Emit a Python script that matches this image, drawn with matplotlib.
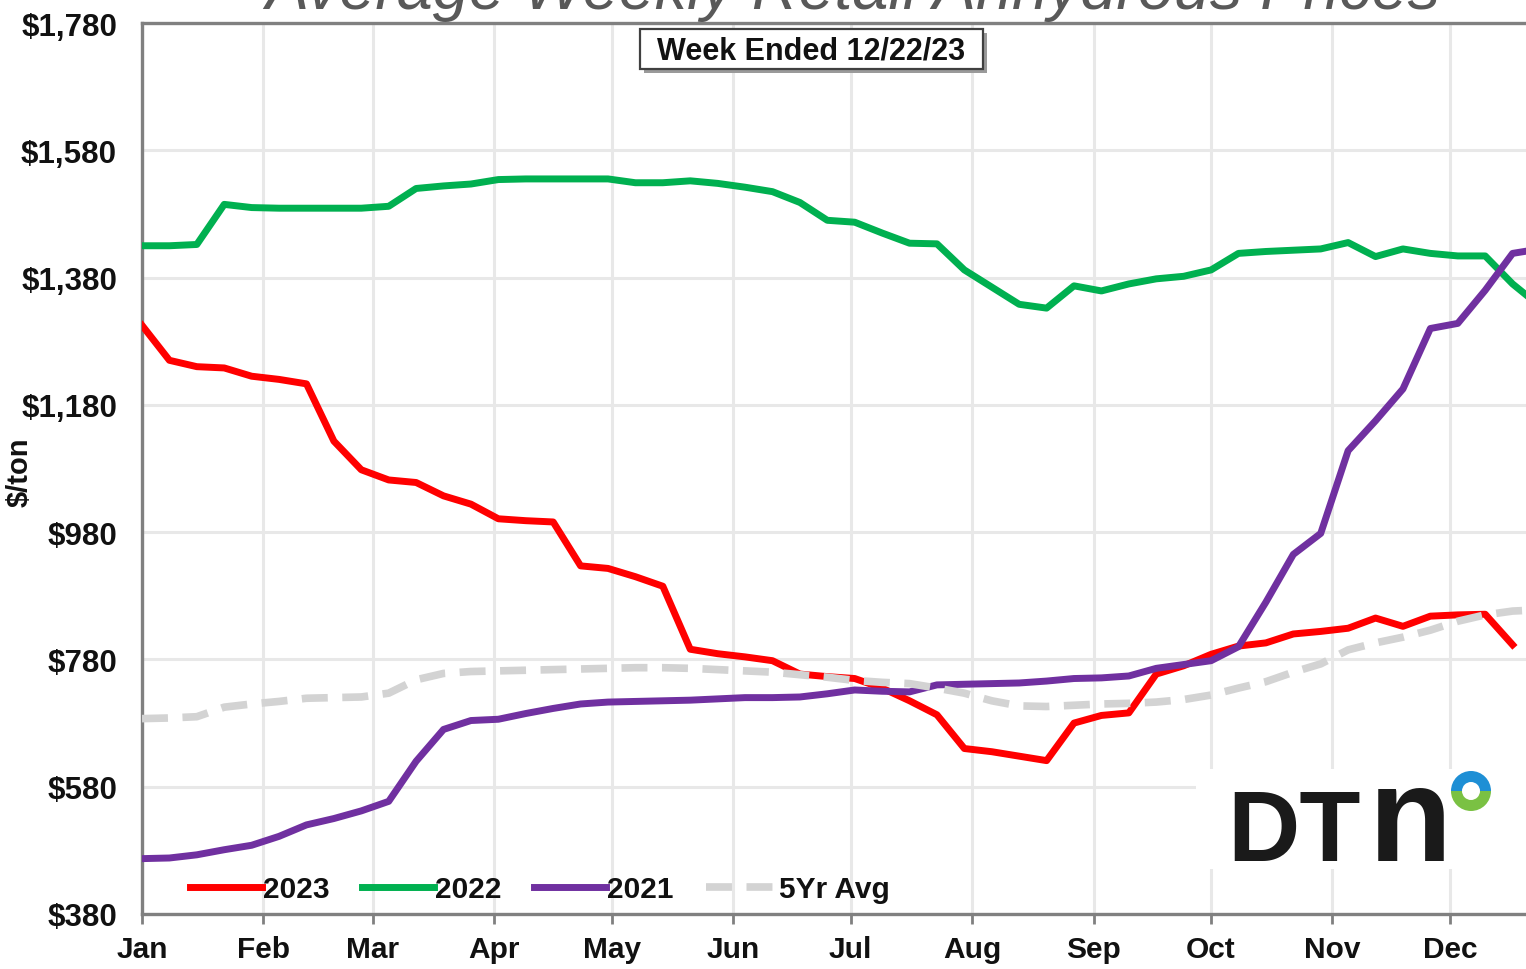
import matplotlib
matplotlib.use("Agg")
import matplotlib.pyplot as plt
import matplotlib.patches as mpatches
import numpy as np

# Weekly retail anhydrous prices, $/ton (one value per week from the first week of January)
price_2023 = [1305, 1250, 1240, 1238, 1225, 1220, 1213, 1123, 1078, 1062, 1058, 1037, 1024,
              1001, 998, 996, 927, 923, 910, 895, 796, 789, 784, 778, 757, 753, 750, 735,
              715, 693, 640, 635, 628, 621, 680, 692, 696, 757, 770, 788, 801, 806, 820,
              824, 829, 845, 832, 848, 850, 851, 803]
price_2022 = [1430, 1430, 1432, 1495, 1490, 1489, 1489, 1489, 1489, 1492, 1520, 1524, 1527,
              1534, 1535, 1535, 1535, 1535, 1529, 1529, 1532, 1528, 1522, 1515, 1498, 1470,
              1467, 1450, 1434, 1433, 1392, 1365, 1338, 1332, 1367, 1359, 1370, 1378, 1382,
              1392, 1418, 1421, 1423, 1425, 1435, 1413, 1425, 1418, 1414, 1414, 1370, 1335]
price_2021 = [467, 468, 473, 481, 488, 502, 520, 530, 542, 557, 620, 670, 684, 686, 695,
              703, 710, 713, 714, 715, 716, 718, 720, 720, 721, 726, 732, 730, 729, 740,
              741, 742, 743, 746, 750, 751, 754, 766, 772, 778, 800, 870, 945, 978, 1108,
              1155, 1205, 1300, 1308, 1360, 1418, 1425]
price_5yr = [687, 688, 690, 705, 710, 714, 719, 720, 721, 727, 748, 758, 761, 762, 763,
             764, 765, 766, 767, 767, 766, 764, 762, 760, 756, 752, 747, 744, 742, 735,
             727, 715, 707, 706, 708, 710, 711, 713, 717, 724, 735, 745, 760, 773, 795,
             806, 815, 826, 840, 850, 856, 858]

month_days = [0, 31, 59, 90, 120, 151, 181, 212, 243, 273, 304, 334]
month_labels = ["Jan", "Feb", "Mar", "Apr", "May", "Jun",
                "Jul", "Aug", "Sep", "Oct", "Nov", "Dec"]
y_ticks = [380, 580, 780, 980, 1180, 1380, 1580, 1780]

RED = "#FF0000"
GREEN = "#00B050"
PURPLE = "#7030A0"
AVG_GRAY = "#D3D3D3"
SPINE = "#808080"
GRID = "#E8E8E8"

W, H = 1526, 970
plt.rcParams["font.family"] = ["Liberation Sans", "DejaVu Sans"]

fig = plt.figure(figsize=(W / 100, H / 100), dpi=100)
fig.patch.set_facecolor("white")

ax = fig.add_axes([142 / W, 1 - 915 / H, 1 - 142 / W, (915 - 24) / H])


def weeks(vals):
    return np.arange(len(vals)) * 7


ax.plot(weeks(price_2023), price_2023, color=RED, lw=5, label="2023", zorder=3)
ax.plot(weeks(price_2022), price_2022, color=GREEN, lw=5, label="2022", zorder=4)
ax.plot(weeks(price_2021), price_2021, color=PURPLE, lw=5, label="2021", zorder=5)
ax.plot(weeks(price_5yr), price_5yr, color=AVG_GRAY, lw=5.5, dashes=(3.4, 1.9),
        label="5Yr Avg", zorder=6)

ax.set_xlim(0, (W - 142) / 3.916)
ax.set_ylim(380, 1780)
ax.set_xticks(month_days)
ax.set_xticklabels(month_labels)
ax.set_yticks(y_ticks)
ax.set_yticklabels([f"${v:,}" for v in y_ticks])
ax.grid(True, color=GRID, lw=2.2, zorder=0)
ax.set_axisbelow(True)

for lab in ax.get_xticklabels():
    lab.set_fontsize(21.5)
    lab.set_fontweight("bold")
    lab.set_color("#111111")
for lab in ax.get_yticklabels():
    lab.set_fontsize(22.5)
    lab.set_fontweight("bold")
    lab.set_color("#111111")
ax.tick_params(axis="x", direction="out", length=7, width=2, color=SPINE, pad=8)
ax.tick_params(axis="y", length=0, pad=18)

ax.spines["right"].set_visible(False)
for side in ("left", "bottom", "top"):
    ax.spines[side].set_color(SPINE)
    ax.spines[side].set_linewidth(2.4)

leg = ax.legend(loc="center left", bbox_to_anchor=(190 / W, 1 - 890 / H),
                bbox_transform=fig.transFigure, ncol=4, frameon=False,
                handlelength=2.4, handletextpad=0.05, columnspacing=1.08,
                borderpad=0, borderaxespad=0,
                prop={"size": 21.5, "weight": "bold"})
for t in leg.get_texts():
    t.set_color("#111111")

# title, cut off at the top edge of the image
fig.text(853 / W, 1 - 9 / H, "Average Weekly Retail Anhydrous Prices",
         ha="center", va="baseline", fontsize=46.5, style="italic", color="#595959")

# y label, partly cut off at the left edge
fig.text(34 / W, 1 - 472 / H, "$/ton", rotation=90, ha="right", va="center",
         fontsize=21, fontweight="bold", color="#111111")

# "Week Ended" box with shadow
fig.patches.append(mpatches.Rectangle((644 / W, 1 - 74 / H), 343 / W, 40 / H,
                                      transform=fig.transFigure, fc="#9A9A9A",
                                      ec="none", zorder=8))
fig.patches.append(mpatches.Rectangle((640 / W, 1 - 70 / H), 343 / W, 40 / H,
                                      transform=fig.transFigure, fc="white",
                                      ec="#404040", lw=1.6, zorder=9))
fig.text(811 / W, 1 - 51 / H, "Week Ended 12/22/23", ha="center", va="center",
         fontsize=22, fontweight="bold", color="#111111", zorder=10)

# DTN logo on a white patch
lax = fig.add_axes([1196 / W, 1 - 870 / H, (W - 1196) / W, 100 / H])
lax.set_xlim(1196, W)
lax.set_ylim(870, 770)
lax.axis("off")
lax.add_patch(mpatches.Rectangle((1196, 770), W - 1196, 100, fc="white", ec="none"))
lax.text(1227, 861, "DT", ha="left", va="baseline", fontsize=72,
         fontweight="bold", color="#1A1A1A")
lax.text(1369, 861, "n", ha="left", va="baseline", fontsize=98,
         fontweight="bold", color="#1A1A1A")
lax.add_patch(mpatches.Wedge((1471, 792), 20, 180, 360, width=11, fc="#1E8FD5", ec="none"))
lax.add_patch(mpatches.Wedge((1471, 792), 20, 0, 180, width=11, fc="#7AC143", ec="none"))

fig.savefig("out.png", dpi=100, facecolor="white")
